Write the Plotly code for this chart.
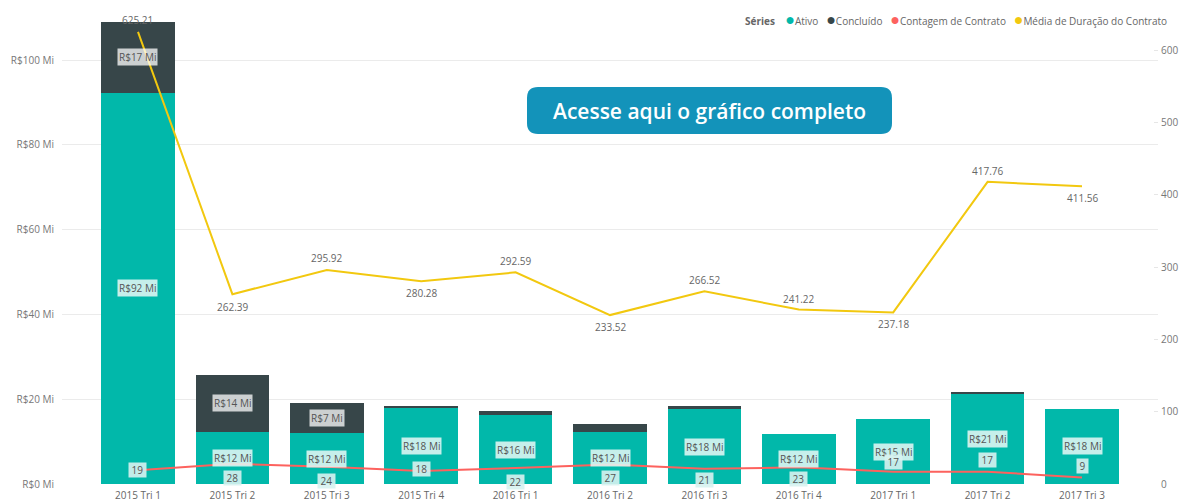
import plotly.graph_objects as go

# ---------------- data ----------------
categories = ["2015 Tri 1", "2015 Tri 2", "2015 Tri 3", "2015 Tri 4", "2016 Tri 1", "2016 Tri 2",
              "2016 Tri 3", "2016 Tri 4", "2017 Tri 1", "2017 Tri 2", "2017 Tri 3"]
ativo = [92.3, 12.2, 12.0, 18.0, 16.2, 12.3, 17.6, 11.8, 15.3, 21.3, 17.8]          # R$ Mi
concluido = [16.6, 13.6, 7.0, 0.5, 1.0, 1.9, 0.8, 0.0, 0.0, 0.2, 0.0]               # R$ Mi
contagem_contrato = [19, 28, 24, 18, 22, 27, 21, 23, 17, 17, 9]
media_duracao = [625.21, 262.39, 295.92, 280.28, 292.59, 233.52, 266.52, 241.22, 237.18, 417.76, 411.56]

left_tickvals = [0, 20, 40, 60, 80, 100]
left_ticktext = ["R$0 Mi", "R$20 Mi", "R$40 Mi", "R$60 Mi", "R$80 Mi", "R$100 Mi"]
right_tickvals = [0, 100, 200, 300, 400, 500, 600]
right_ticktext = ["0", "100", "200", "300", "400", "500", "600"]

series_names = ["Ativo", "Concluído", "Contagem de Contrato", "Média de Duração do Contrato"]

# ---------------- styles ----------------
C_ATIVO = "#01B8AA"
C_CONC = "#374649"
C_CONT = "#FD625E"
C_MEDIA = "#F2C80F"
series_colors = [C_ATIVO, C_CONC, C_CONT, C_MEDIA]
FONT = "Open Sans, Noto Sans, sans-serif"

W, H = 1189, 502
L, R, T, B = 62, 1158, 22, 484

def px(x):
    return (x - L) / (R - L)

def py(y):
    return (B - y) / (B - T)

# label placement offsets (pixels)
media_label_shift = [12, -13, 12, -12, 11, -12, 11, 11, -12, 11, -12]
count_label_shift = [0, -14, -14, 2, -14, -14, -11, -12, 10, 12, 11]

fig = go.Figure()

fig.add_trace(go.Bar(x=categories, y=ativo, name="Ativo", marker_color=C_ATIVO,
                     marker_line_width=0, width=0.78, showlegend=False, hoverinfo="x+y"))
fig.add_trace(go.Bar(x=categories, y=concluido, name="Concluído", marker_color=C_CONC,
                     marker_line_width=0, width=0.78, showlegend=False, hoverinfo="x+y"))
fig.add_trace(go.Scatter(x=categories, y=contagem_contrato, name="Contagem de Contrato",
                         mode="lines", line=dict(color=C_CONT, width=2), yaxis="y2",
                         showlegend=False))
fig.add_trace(go.Scatter(x=categories, y=media_duracao, name="Média de Duração do Contrato",
                         mode="lines", line=dict(color=C_MEDIA, width=2), yaxis="y2",
                         showlegend=False))

annotations = []
lab_font = dict(family=FONT, size=10, color="#555")

for i, cat in enumerate(categories):
    if ativo[i] >= 3:
        annotations.append(dict(x=cat, y=ativo[i] / 2, xref="x", yref="y",
                                text=f"R${round(ativo[i])} Mi", showarrow=False,
                                font=lab_font, bgcolor="rgba(225,246,244,0.88)", borderpad=1))
    if concluido[i] >= 3:
        annotations.append(dict(x=cat, y=ativo[i] + concluido[i] / 2, xref="x", yref="y",
                                text=f"R${round(concluido[i])} Mi", showarrow=False,
                                font=lab_font, bgcolor="rgba(255,255,255,0.75)", borderpad=1))
    annotations.append(dict(x=cat, y=contagem_contrato[i], xref="x", yref="y2",
                            text=f"&nbsp;{contagem_contrato[i]}&nbsp;", showarrow=False,
                            font=lab_font, bgcolor="rgba(215,242,239,0.9)", borderpad=0,
                            yshift=count_label_shift[i]))
    annotations.append(dict(x=cat, y=media_duracao[i], xref="x", yref="y2",
                            text=f"{media_duracao[i]:.2f}", showarrow=False,
                            font=dict(family=FONT, size=10, color="#666"),
                            yshift=media_label_shift[i]))

# legend built as one text line
leg_parts = ["<b>Séries</b>&nbsp;&nbsp;&nbsp;&nbsp;"]
for name, col in zip(series_names, series_colors):
    leg_parts.append(f"<span style='color:{col};font-size:16px'>●</span>{name}&nbsp;&nbsp;&nbsp;")
annotations.append(dict(x=px(743), y=py(19), xref="paper", yref="paper", xanchor="left",
                        yanchor="middle", showarrow=False, text="".join(leg_parts),
                        font=dict(family=FONT, size=10, color="#666")))

# button
bx0, by0, bx1, by1, rr = 527, 87, 892, 134, 11
path = (f"M {px(bx0 + rr)} {py(by0)} L {px(bx1 - rr)} {py(by0)} "
        f"Q {px(bx1)} {py(by0)} {px(bx1)} {py(by0 + rr)} L {px(bx1)} {py(by1 - rr)} "
        f"Q {px(bx1)} {py(by1)} {px(bx1 - rr)} {py(by1)} L {px(bx0 + rr)} {py(by1)} "
        f"Q {px(bx0)} {py(by1)} {px(bx0)} {py(by1 - rr)} L {px(bx0)} {py(by0 + rr)} "
        f"Q {px(bx0)} {py(by0)} {px(bx0 + rr)} {py(by0)} Z")
shapes = [dict(type="path", path=path, xref="paper", yref="paper",
               fillcolor="#1393BA", line=dict(width=0), layer="above")]
annotations.append(dict(x=px((bx0 + bx1) / 2), y=py((by0 + by1) / 2), xref="paper", yref="paper",
                        text="Acesse aqui o gráfico completo", showarrow=False,
                        font=dict(family="Open Sans", size=21, color="white", weight=600),
                        xanchor="center", yanchor="middle"))

fig.update_layout(
    width=W, height=H,
    margin=dict(l=L, r=W - R, t=T, b=H - B, pad=0, autoexpand=False),
    paper_bgcolor="white", plot_bgcolor="white",
    barmode="stack", bargap=0.22,
    font=dict(family=FONT, size=10, color="#777"),
    xaxis=dict(type="category", range=[-0.805, 10.805], showgrid=False, zeroline=False,
               showline=False, ticks="", automargin=False, ticklabelstandoff=4,
               tickfont=dict(size=10, color="#666")),
    yaxis=dict(range=[0, (B - T) / 4.24], tickvals=left_tickvals, ticktext=left_ticktext,
               showgrid=True, gridcolor="#ebebeb", gridwidth=1, zeroline=False,
               showline=False, ticks="", ticklabelstandoff=7, automargin=False,
               tickfont=dict(size=10, color="#777")),
    yaxis2=dict(range=[0, (B - T) / 0.7233], overlaying="y", side="right",
                tickvals=right_tickvals, ticktext=right_ticktext, showgrid=False,
                zeroline=False, showline=False, ticks="inside", ticklen=4,
                tickcolor="#e6e6e6", ticklabelstandoff=2, automargin=False,
                tickfont=dict(size=10, color="#777")),
    annotations=annotations,
    shapes=shapes,
    showlegend=False,
)

fig.write_html("out.html", config={"displayModeBar": False},
               post_script="document.body.style.margin='0';document.body.style.overflow='hidden';")
